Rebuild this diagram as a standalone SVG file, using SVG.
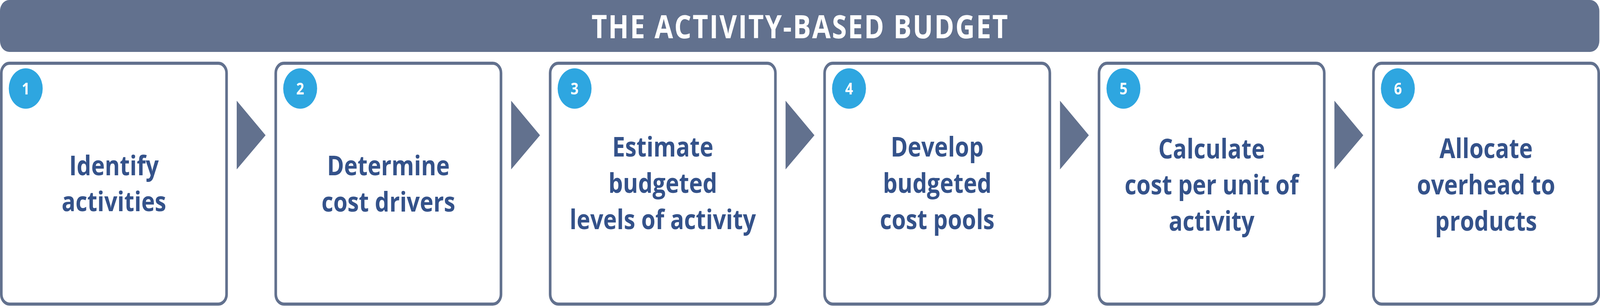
<svg xmlns="http://www.w3.org/2000/svg" width="4880" height="789" viewBox="0 0 4880 789" preserveAspectRatio="none">
<style>
svg{width:100vw;height:100vh;display:block}
.hdr{fill:#62718E}
.box{fill:#FFFFFF;stroke:#62718E;stroke-width:8}
.arr{fill:#62718E}
.badge{fill:#2EA6E0}
.num{font-family:"Open Sans","Liberation Sans",sans-serif;font-weight:700;font-size:42px;fill:#FFFFFF;text-anchor:middle}
.lbl{font-family:"Open Sans","Liberation Sans",sans-serif;font-weight:700;font-size:70px;fill:#34528A;text-anchor:middle}
.title{font-family:"Open Sans","Liberation Sans",sans-serif;font-weight:700;font-size:82px;fill:#FFFFFF;text-anchor:middle}
</style>
<rect width="4880" height="789" fill="#FFFFFF"/>
<g id="header">
<rect class="hdr" x="0" y="0" width="4878" height="133" rx="28" ry="28"/>
<text class="title" x="2439" y="98" textLength="1270" lengthAdjust="spacing">THE ACTIVITY-BASED BUDGET</text>
</g>
<g id="connectors">
<polygon class="arr" points="722,258 810,346.5 722,434"/>
<polygon class="arr" points="1559,258 1647,346.5 1559,434"/>
<polygon class="arr" points="2396,258 2484,346.5 2396,434"/>
<polygon class="arr" points="3233,258 3321,346.5 3233,434"/>
<polygon class="arr" points="4070,258 4158,346.5 4070,434"/>
</g>
<g id="step1">
<rect class="box" x="4" y="162" width="687" height="617" rx="25" ry="25"/>
<circle class="badge" cx="78.5" cy="226.7" r="51.7"/>
<text class="num" x="78.5" y="241.7">1</text>
<text class="lbl" x="347.5" y="449">Identify</text>
<text class="lbl" x="347.5" y="541">activities</text>
</g>
<g id="step2">
<rect class="box" x="841" y="162" width="687" height="617" rx="25" ry="25"/>
<circle class="badge" cx="915.5" cy="226.7" r="51.7"/>
<text class="num" x="915.5" y="241.7">2</text>
<text class="lbl" x="1184.5" y="449">Determine</text>
<text class="lbl" x="1184.5" y="542">cost drivers</text>
</g>
<g id="step3">
<rect class="box" x="1678" y="162" width="687" height="617" rx="25" ry="25"/>
<circle class="badge" cx="1752.5" cy="226.7" r="51.7"/>
<text class="num" x="1752.5" y="241.7">3</text>
<text class="lbl" x="2021.5" y="401">Estimate</text>
<text class="lbl" x="2021.5" y="494">budgeted</text>
<text class="lbl" x="2021.5" y="587">levels of activity</text>
</g>
<g id="step4">
<rect class="box" x="2515" y="162" width="687" height="617" rx="25" ry="25"/>
<circle class="badge" cx="2589.5" cy="226.7" r="51.7"/>
<text class="num" x="2589.5" y="241.7">4</text>
<text class="lbl" x="2858.5" y="401">Develop</text>
<text class="lbl" x="2858.5" y="494">budgeted</text>
<text class="lbl" x="2858.5" y="587">cost pools</text>
</g>
<g id="step5">
<rect class="box" x="3352" y="162" width="687" height="617" rx="25" ry="25"/>
<circle class="badge" cx="3426.5" cy="226.7" r="51.7"/>
<text class="num" x="3426.5" y="241.7">5</text>
<text class="lbl" x="3695.5" y="406">Calculate</text>
<text class="lbl" x="3695.5" y="498">cost per unit of</text>
<text class="lbl" x="3695.5" y="591">activity</text>
</g>
<g id="step6">
<rect class="box" x="4189" y="162" width="687" height="617" rx="25" ry="25"/>
<circle class="badge" cx="4263.5" cy="226.7" r="51.7"/>
<text class="num" x="4263.5" y="241.7">6</text>
<text class="lbl" x="4532.5" y="405">Allocate</text>
<text class="lbl" x="4532.5" y="498">overhead to</text>
<text class="lbl" x="4532.5" y="591">products</text>
</g>
</svg>
